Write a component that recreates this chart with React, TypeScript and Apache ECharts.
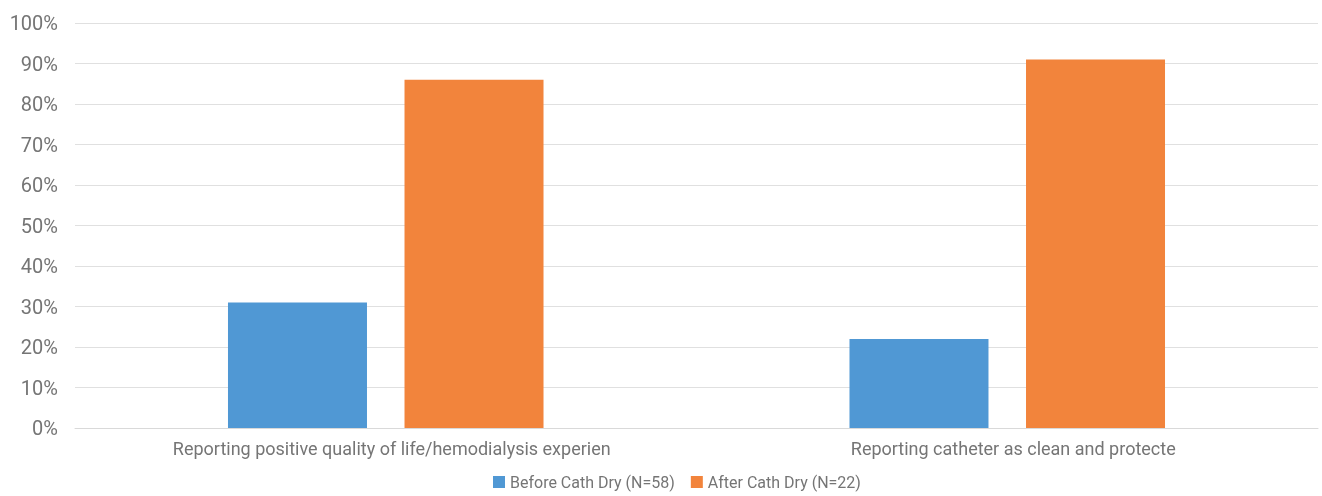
import React, { useEffect, useRef } from "react";
import * as echarts from "echarts";

const categories = [
  "Reporting positive quality of life/hemodialysis experien",
  "Reporting catheter as clean and protecte",
];
const beforeValues = [31, 22];
const afterValues = [86, 91];
const seriesNames = ["Before Cath Dry (N=58)", "After Cath Dry (N=22)"];

export default function App() {
  const ref = useRef<HTMLDivElement>(null);
  useEffect(() => {
    if (!ref.current) return;
    const chart = echarts.init(ref.current, undefined, { renderer: "svg" });
    const font = "Roboto";
    chart.setOption({
      animation: false,
      textStyle: { fontFamily: font },
      grid: { left: 75, right: 4, top: 23, bottom: 68, containLabel: false },
      legend: {
        top: 474,
        left: 493,
        itemWidth: 12,
        itemHeight: 12,
        itemGap: 16,
        icon: "rect",
        padding: 0,
        textStyle: { fontFamily: font, fontSize: 16, color: "#757575" },
        data: seriesNames,
      },
      xAxis: {
        type: "category",
        data: categories,
        axisLine: { show: true, lineStyle: { color: "#d9d9d9" } },
        axisTick: { show: false },
        axisLabel: {
          fontFamily: font,
          fontSize: 18,
          color: "#757575",
          margin: 11,
          interval: 0,
          padding: [0, 0, 0, 12],
        },
      },
      yAxis: {
        type: "value",
        min: 0,
        max: 100,
        interval: 10,
        axisLine: { show: false },
        axisTick: { show: false },
        splitLine: { lineStyle: { color: "#e0e0e0", width: 1 } },
        axisLabel: {
          fontFamily: font,
          fontSize: 20,
          color: "#757575",
          margin: 17,
          formatter: "{value}%",
        },
      },
      series: [
        {
          name: seriesNames[0],
          type: "bar",
          data: beforeValues,
          barWidth: 139,
          barGap: "27%",
          itemStyle: { color: "#5098d4" },
        },
        {
          name: seriesNames[1],
          type: "bar",
          data: afterValues,
          barWidth: 139,
          barGap: "27%",
          itemStyle: { color: "#f2843c" },
        },
      ],
    });
    return () => chart.dispose();
  }, []);
  return (
    <div
      ref={ref}
      style={{ position: "fixed", left: 0, top: 0, width: 1322, height: 496 }}
    />
  );
}
